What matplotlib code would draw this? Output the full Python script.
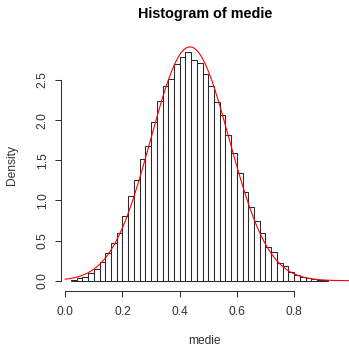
import numpy as np
import matplotlib
matplotlib.use("Agg")
import matplotlib.pyplot as plt

plt.rcParams['font.family'] = ['Liberation Sans', 'DejaVu Sans']

# histogram of the sample means (density scale), bins of width 0.02
bin_edges = np.round(np.arange(0.02, 0.9201, 0.02), 2)
density = [0.01, 0.03, 0.05, 0.09, 0.14, 0.23, 0.35, 0.47, 0.59, 0.80,
           1.05, 1.26, 1.52, 1.68, 1.98, 2.24, 2.42, 2.51, 2.70, 2.78,
           2.85, 2.75, 2.71, 2.58, 2.42, 2.23, 2.06, 1.82, 1.59, 1.34,
           1.10, 0.92, 0.74, 0.59, 0.42, 0.36, 0.22, 0.18, 0.11, 0.07,
           0.05, 0.03, 0.02, 0.01, 0.005]

# fitted normal curve
mu, sigma = 0.436, 0.137

x_ticks = [0.0, 0.2, 0.4, 0.6, 0.8]
y_ticks = [0.0, 0.5, 1.0, 1.5, 2.0, 2.5]

fig = plt.figure(figsize=(3.49, 3.46), dpi=100)
ax = fig.add_axes([0.1739, 0.159, 0.8261, 0.731])

ax.bar(bin_edges[:-1], density, width=np.diff(bin_edges), align='edge',
       color='white', edgecolor='#2a2a2a', linewidth=0.75)

xs = np.linspace(0, 1, 400)
ax.plot(xs, np.exp(-0.5 * ((xs - mu) / sigma) ** 2) / (sigma * np.sqrt(2 * np.pi)),
        color='red', linewidth=0.8)

ax.set_xlim(-0.016, 0.992)
ax.set_ylim(-0.128, 3.022)

for s in ['top', 'right']:
    ax.spines[s].set_visible(False)
ax.spines['left'].set_bounds(0, 2.5)
ax.spines['bottom'].set_bounds(0, 0.8)
for s in ['left', 'bottom']:
    ax.spines[s].set_linewidth(0.75)
    ax.spines[s].set_color('#333333')

ax.set_xticks(x_ticks)
ax.set_xticklabels([f"{v:.1f}" for v in x_ticks])
ax.set_yticks(y_ticks)
ax.set_yticklabels([f"{v:.1f}" for v in y_ticks], rotation=90, va='center')
ax.tick_params(axis='both', length=4.6, width=0.75, color='#333333',
               labelsize=8.64, labelcolor='#333333')
ax.tick_params(axis='x', pad=6)
ax.tick_params(axis='y', pad=4)

ax.set_xlabel('medie', fontsize=8.64, color='#333333', va='center')
ax.xaxis.set_label_coords(0.5, -0.196)
ax.set_ylabel('Density', fontsize=8.64, color='#333333', va='center')
ax.yaxis.set_label_coords(-0.169, 0.5)

ax.text(0.5, 1.095, 'Histogram of medie', transform=ax.transAxes,
        fontsize=10.37, fontweight='bold', ha='center', va='center')

fig.savefig('out.png', dpi=100)
